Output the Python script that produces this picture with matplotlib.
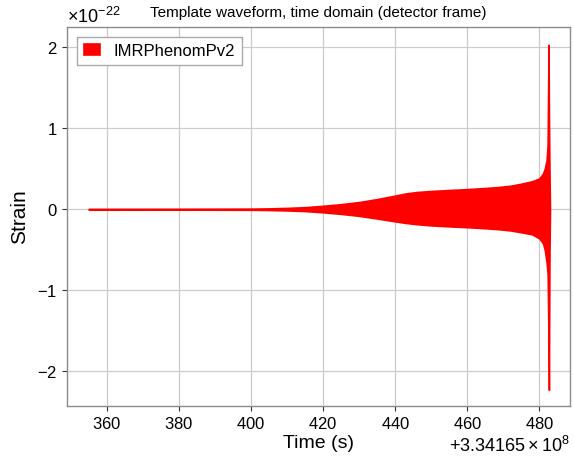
import numpy as np
import matplotlib
matplotlib.use("Agg")
import matplotlib.pyplot as plt
from matplotlib.ticker import ScalarFormatter

plt.rcParams['font.family'] = ['Liberation Sans', 'DejaVu Sans']
plt.rcParams['mathtext.fontset'] = 'custom'
plt.rcParams['mathtext.rm'] = 'Liberation Sans'
plt.rcParams['mathtext.it'] = 'Liberation Sans:italic'
plt.rcParams['mathtext.bf'] = 'Liberation Sans:bold'

# ---- data (envelope of the waveform) ----
gps_offset = 334165000.0
t_rel = [355.0, 380.0, 400.0, 405.0, 410.0, 415.0, 420.0, 425.0, 430.0, 435.0,
         440.0, 443.0, 446.0, 450.0, 455.0, 460.0, 465.0, 469.0, 472.0, 475.0,
         478.0, 480.0, 481.0, 481.5, 482.0, 482.3, 482.55, 482.65, 482.8, 482.95]
upper = [0.004, 0.005, 0.007, 0.010, 0.016, 0.025, 0.042, 0.062, 0.088, 0.125,
         0.168, 0.195, 0.212, 0.225, 0.237, 0.248, 0.262, 0.275, 0.29, 0.315,
         0.345, 0.38, 0.44, 0.50, 0.60, 0.80, 2.03, 1.20, 0.50, 0.0]
lower = [-0.004, -0.005, -0.007, -0.010, -0.015, -0.023, -0.038, -0.058, -0.082, -0.115,
         -0.150, -0.170, -0.185, -0.200, -0.212, -0.222, -0.235, -0.248, -0.262, -0.285,
         -0.31, -0.36, -0.42, -0.50, -0.65, -0.80, -1.60, -2.23, -0.60, 0.0]
scale = 1e-22
series_label = "IMRPhenomPv2"
title = "Template waveform, time domain (detector frame)"

t = np.array(t_rel) + gps_offset
up = np.array(upper) * scale
lo = np.array(lower) * scale

fig = plt.figure(figsize=(5.74, 4.58), dpi=100)
ax = fig.add_axes([67/574, 1-406/458, (570-67)/574, (406-27)/458])

ax.fill_between(t, lo, up, color='#ff0000', linewidth=1.2, edgecolor='#ff0000',
                label=series_label, zorder=3)

ax.set_xlim(gps_offset + 349, gps_offset + 488.5)
ax.set_ylim(-2.43e-22, 2.25e-22)
ax.set_xticks(gps_offset + np.array([360, 380, 400, 420, 440, 460, 480]))
ax.set_yticks(np.array([-2, -1, 0, 1, 2]) * scale)

xf = ScalarFormatter(useMathText=True, useOffset=gps_offset)
ax.xaxis.set_major_formatter(xf)
yf = ScalarFormatter(useMathText=True)
yf.set_powerlimits((-3, 3))
ax.yaxis.set_major_formatter(yf)

ax.grid(True, color='#cccccc', linewidth=0.9, zorder=0)
ax.set_axisbelow(True)
for s in ax.spines.values():
    s.set_color('#8c8c8c')
    s.set_linewidth(1.0)
ax.tick_params(axis='both', labelsize=12, direction='out', length=3.5, width=0.8,
               color='#333333', top=False, right=False)
ax.xaxis.get_offset_text().set_fontsize(13)
ax.yaxis.get_offset_text().set_fontsize(13)

ax.set_xlabel("Time (s)", fontsize=14, labelpad=2)
ax.set_ylabel("Strain", fontsize=15, labelpad=6)
ax.set_title(title, fontsize=11, pad=7)

leg = ax.legend(loc='upper left', fontsize=12, fancybox=False, edgecolor='#aaaaaa',
                framealpha=1.0, handlelength=1.0, handleheight=0.65,
                borderaxespad=0.6)
leg.get_frame().set_linewidth(1.0)

fig.savefig("out.png", dpi=100)
